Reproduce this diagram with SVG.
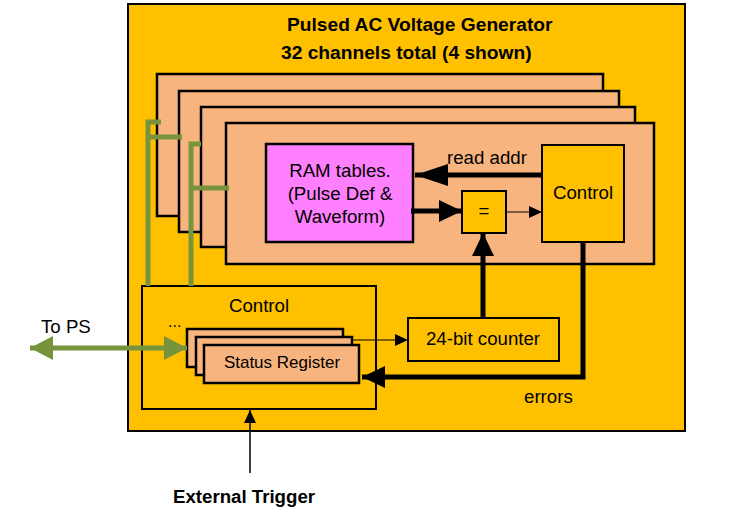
<svg xmlns="http://www.w3.org/2000/svg" width="749" height="519" viewBox="0 0 749 519">
<style>
text{font-family:"Liberation Sans",Arial,sans-serif;font-size:18.67px;fill:#000}
.b{font-weight:bold}
.m{text-anchor:middle}
.y{fill:#FFC000;stroke:#000;stroke-width:2}
.p{fill:#F8B47E;stroke:#000;stroke-width:2.5}
.g{stroke:#77933C;stroke-width:5;fill:none}
.k{stroke:#000;fill:none}
</style>
<defs>
<marker id="ab" markerUnits="userSpaceOnUse" markerWidth="34" markerHeight="22" refX="33" refY="11" orient="auto"><path d="M0,0L33,11L0,22z" fill="#000"/></marker>
<marker id="am" markerUnits="userSpaceOnUse" markerWidth="24" markerHeight="22" refX="23" refY="11" orient="auto"><path d="M0,0L23,11L0,22z" fill="#000"/></marker>
<marker id="as" markerUnits="userSpaceOnUse" markerWidth="14" markerHeight="12" refX="13" refY="6" orient="auto"><path d="M0,0L13,6L0,12z" fill="#000"/></marker>
<marker id="ag" markerUnits="userSpaceOnUse" markerWidth="24" markerHeight="24" refX="23" refY="12" orient="auto-start-reverse"><path d="M0,0L23,12L0,24z" fill="#77933C"/></marker>
</defs>
<g id="generator">
<rect class="y" x="128" y="4" width="557" height="427"/>
<text class="b" x="287" y="31" style="font-size:19.2px">Pulsed AC Voltage Generator</text>
<text class="b" x="281" y="59" style="font-size:19.2px">32 channels total (4 shown)</text>
</g>
<g id="channel1"><rect class="p" x="157" y="74" width="446" height="142"/></g>
<g id="channel2"><rect class="p" x="179" y="91" width="440" height="141"/></g>
<g id="channel3"><rect class="p" x="201" y="107" width="434" height="140"/></g>
<g id="channel4"><rect class="p" x="226" y="123" width="428" height="141"/></g>
<g id="ram">
<rect x="266" y="144" width="147" height="98" fill="#FF80FF" stroke="#000" stroke-width="2.5"/>
<text class="m" x="340" y="177">RAM tables.</text>
<text class="m" x="340" y="200">(Pulse Def &amp;</text>
<text class="m" x="340" y="223">Waveform)</text>
</g>
<g id="ch-control">
<rect class="y" x="542" y="145" width="82" height="97" stroke-width="2.5"/>
<text class="m" x="583" y="199">Control</text>
</g>
<g id="compare">
<rect class="y" x="462" y="191" width="44" height="42" stroke-width="2.5"/>
<text class="m" x="484" y="217">=</text>
</g>
<g id="counter">
<rect class="y" x="408" y="318" width="151" height="43" stroke-width="2.5"/>
<text class="m" x="483" y="345">24-bit counter</text>
</g>
<g id="main-control">
<rect class="y" x="142" y="286" width="234" height="123"/>
<text class="m" x="259" y="312">Control</text>
<text x="168" y="327" style="font-size:16px">...</text>
</g>
<g id="status">
<rect class="p" x="187" y="329" width="156" height="38"/>
<rect class="p" x="196" y="337" width="156" height="38"/>
<rect class="p" x="204" y="345" width="155" height="38"/>
<text class="m" x="282" y="368" style="font-size:17px">Status Register</text>
</g>
<g id="labels">
<text x="447" y="164">read addr</text>
<text x="524" y="403">errors</text>
<text x="41" y="333">To PS</text>
<text class="b m" x="244" y="503">External Trigger</text>
</g>
<g id="connectors">
<path class="g" d="M148,286V122H161M148,137H182M191,286V144H201M191,188H229"/>
<path class="g" d="M30,348H187" stroke-width="6" marker-start="url(#ag)" marker-end="url(#ag)"/>
<path class="k" d="M542,175H415" stroke-width="5" marker-end="url(#ab)"/>
<path class="k" d="M411,211H462" stroke-width="5" marker-end="url(#am)"/>
<path class="k" d="M506,212H542" stroke-width="1.2" marker-end="url(#as)"/>
<path class="k" d="M483,318V233" stroke-width="5" marker-end="url(#am)"/>
<path class="k" d="M583,242V377H362" stroke-width="5" marker-end="url(#am)"/>
<path class="k" d="M352,340H408" stroke-width="1.2" marker-end="url(#as)"/>
<path class="k" d="M250,473V410" stroke-width="1.5" marker-end="url(#as)"/>
</g>
</svg>
